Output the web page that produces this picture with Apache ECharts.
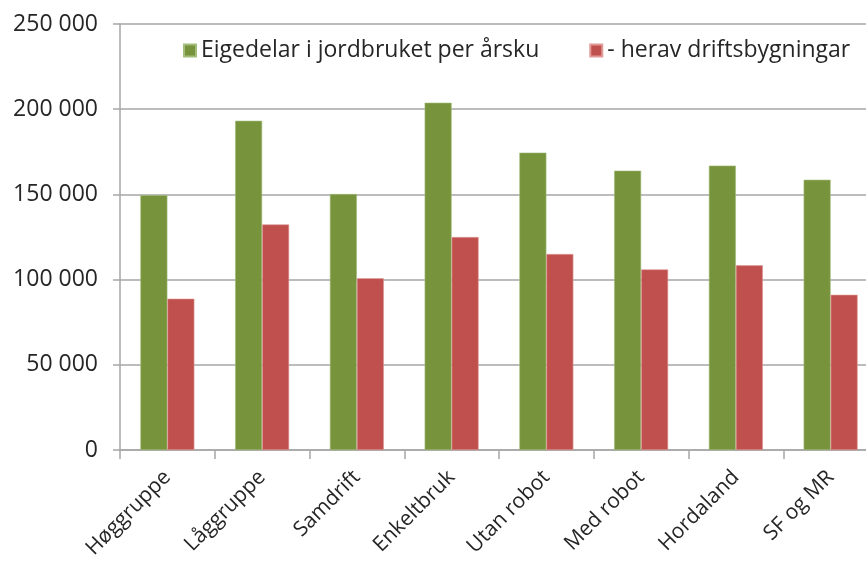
<!DOCTYPE html>
<html>
<head>
<meta charset="utf-8">
<script src="https://cdn.jsdelivr.net/npm/echarts@6/dist/echarts.min.js"></script>
<style>
  html, body { margin: 0; padding: 0; background: #fff; }
  #chart { width: 866px; height: 566px; }
</style>
</head>
<body>
<div id="chart"></div>
<script>
// categories and values
const categories = ['Høggruppe', 'Låggruppe', 'Samdrift', 'Enkeltbruk', 'Utan robot', 'Med robot', 'Hordaland', 'SF og MR'];
const eigedelar = [149500, 193200, 150200, 203800, 174500, 163900, 166900, 158600];
const driftsbygningar = [88800, 132400, 100800, 125000, 115000, 106000, 108400, 91100];
const seriesNames = ['Eigedelar i jordbruket per årsku', '- herav driftsbygningar'];

const font = 'Open Sans';
const textColor = '#262626';
const gridColor = '#a6a6a6';

const chart = echarts.init(document.getElementById('chart'));

const option = {
    animation: false,
    // the original is cropped on the right, so the plot runs past the edge
    grid: { left: 120, width: 758, top: 24, bottom: 116, outerBoundsMode: 'none' },
    legend: {
        left: 178,
        top: 34,
        icon: 'rect',
        itemWidth: 12,
        itemHeight: 12,
        itemGap: 50,
        textStyle: { fontFamily: font, fontSize: 23, color: textColor },
        data: seriesNames
    },
    xAxis: {
        type: 'category',
        data: categories,
        axisLine: { lineStyle: { color: gridColor, width: 1.5 } },
        axisTick: { show: true, length: 9, lineStyle: { color: gridColor, width: 1.5 } },
        axisLabel: {
            rotate: 45,
            margin: 24,
            fontFamily: font,
            fontSize: 21,
            color: textColor
        }
    },
    yAxis: {
        type: 'value',
        min: 0,
        max: 250000,
        interval: 50000,
        axisLine: { show: true, lineStyle: { color: gridColor, width: 1.5 } },
        axisTick: { show: true, length: 7, lineStyle: { color: gridColor, width: 1.5 } },
        splitLine: { lineStyle: { color: gridColor, width: 1.5 } },
        axisLabel: {
            margin: 22,
            fontFamily: font,
            fontSize: 23,
            color: textColor,
            formatter: v => v === 0 ? '0' : String(v).replace(/\B(?=(\d{3})+(?!\d))/g, ' ')
        }
    },
    series: [
        {
            name: seriesNames[0],
            type: 'bar',
            data: eigedelar,
            barWidth: 27,
            barGap: '0%',
            itemStyle: { color: '#77933c', borderColor: '#a3bd7a', borderWidth: 0.6 }
        },
        {
            name: seriesNames[1],
            type: 'bar',
            data: driftsbygningar,
            barWidth: 27,
            itemStyle: { color: '#c0504d', borderColor: '#e09a98', borderWidth: 0.6 }
        }
    ]
};

chart.setOption(option);
</script>
</body>
</html>
